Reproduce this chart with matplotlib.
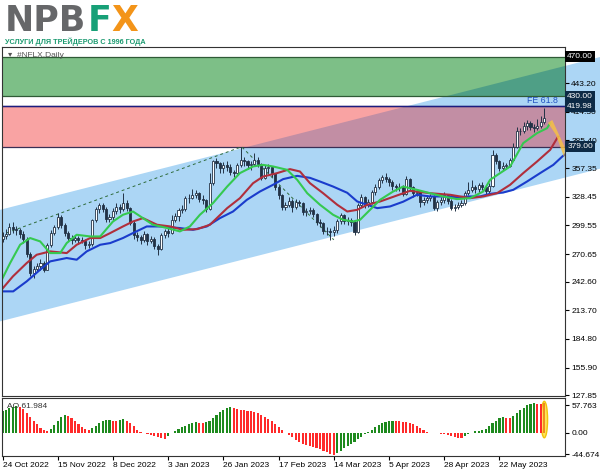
import numpy as np
import matplotlib.pyplot as plt
from matplotlib.patches import Polygon, Rectangle, Ellipse
from matplotlib.transforms import blended_transform_factory

plt.rcParams['font.family'] = ['Liberation Sans', 'DejaVu Sans']

# daily bars, 24 Oct 2022 .. 9 Jun 2023 (bar index = trading day)
first_open = 286
close = [289, 291, 298, 296, 295, 291, 286, 271, 251, 256,
         259, 262, 255, 280, 292, 298, 308, 300, 292, 287,
         285, 287, 285, 284, 280, 281, 305, 316, 320, 316,
         306, 308, 314, 318, 316, 322, 317, 302, 290, 288,
         285, 291, 284, 286, 279, 276, 290, 294, 292, 305,
         309, 315, 316, 327, 327, 330, 332, 326, 325, 316,
         342, 365, 363, 358, 361, 359, 354, 353, 361, 366,
         365, 361, 362, 366, 362, 347, 358, 359, 352, 338,
         330, 318, 320, 324, 318, 323, 322, 313, 314, 315,
         311, 303, 302, 294, 294, 293, 295, 304, 310, 304,
         305, 303, 293, 320, 328, 320, 323, 333, 338, 345,
         348, 346, 343, 339, 338, 338, 331, 346, 338, 332,
         333, 323, 325, 327, 329, 317, 323, 325, 330, 324,
         317, 318, 320, 322, 332, 335, 338, 336, 340, 338,
         334, 339, 371, 365, 358, 360, 360, 366, 379, 395,
         395, 400, 403, 399, 398, 400, 404, 408]
high = [293, 296, 302, 303, 299, 297, 294, 288, 273, 259,
        262, 266, 264, 282, 295, 300, 312, 310, 302, 294,
        290, 290, 289, 288, 286, 284, 306, 318, 322, 322,
        318, 311, 317, 322, 321, 332, 325, 318, 304, 293,
        290, 294, 292, 289, 288, 281, 292, 296, 298, 310,
        312, 317, 320, 329, 331, 336, 335, 333, 330, 326,
        352, 366, 368, 364, 364, 365, 362, 356, 363, 379,
        369, 366, 365, 373, 369, 363, 361, 362, 360, 353,
        340, 331, 323, 328, 326, 326, 325, 323, 317, 318,
        317, 312, 306, 303, 298, 297, 299, 306, 312, 311,
        308, 307, 304, 322, 331, 329, 326, 335, 341, 347,
        350, 352, 348, 345, 341, 342, 340, 349, 347, 339,
        336, 335, 328, 330, 331, 330, 325, 328, 333, 331,
        326, 321, 323, 325, 334, 343, 345, 340, 342, 343,
        340, 342, 376, 373, 366, 364, 363, 368, 383, 399,
        398, 404, 406, 405, 402, 407, 410, 418]
low = [283, 286, 290, 292, 290, 287, 282, 268, 248, 246,
       252, 255, 252, 254, 278, 290, 296, 297, 289, 284,
       281, 283, 281, 282, 276, 277, 279, 303, 312, 313,
       303, 303, 305, 311, 312, 314, 314, 300, 286, 284,
       281, 283, 280, 282, 276, 270, 275, 287, 288, 291,
       303, 304, 312, 314, 322, 326, 327, 323, 321, 313,
       315, 340, 358, 353, 352, 355, 350, 348, 351, 359,
       360, 357, 356, 360, 359, 345, 346, 352, 348, 335,
       326, 315, 315, 318, 313, 316, 319, 310, 309, 311,
       308, 300, 298, 291, 290, 285, 289, 292, 301, 301,
       300, 299, 290, 292, 318, 317, 318, 321, 330, 336,
       342, 343, 339, 335, 334, 334, 329, 330, 335, 328,
       329, 318, 320, 322, 324, 315, 314, 320, 322, 321,
       315, 314, 316, 318, 320, 330, 333, 332, 333, 335,
       331, 332, 338, 362, 355, 356, 357, 359, 365, 378,
       391, 393, 396, 396, 394, 396, 398, 402]

# Awesome Oscillator
ao = [46, 49, 52, 55, 57, 54, 50, 42, 33, 25,
      18, 11, 6, 4, 8, 16, 26, 34, 38, 36,
      31, 24, 18, 13, 9, 7, 10, 15, 20, 24,
      27, 28, 26, 25, 27, 29, 25, 20, 14, 7,
      2, -1, -3, -4, -6, -8, -10, -12, -6, -1,
      4, 8, 12, 15, 18, 20, 22, 21, 20, 22,
      26, 31, 37, 43, 49, 53, 55, 52, 50, 49,
      47, 46, 45, 44, 42, 38, 34, 29, 24, 18,
      12, 6, 1, -4, -9, -14, -18, -22, -25, -28,
      -30, -32, -34, -37, -40, -43, -45, -42, -37, -32,
      -27, -22, -18, -13, -8, -3, 2, 7, 12, 16,
      20, 23, 25, 26, 25, 24, 23, 22, 21, 18,
      14, 10, 6, 3, 1, 0.5, -1, -2, -3, -5,
      -6, -8, -10, -11, -7, -3, 1, 4, 5, 6,
      9, 14, 20, 26, 32, 34, 32, 31, 36, 42,
      48, 53, 58, 61, 62, 61.5, 61, 61.984]

# Alligator lines (bar, price)
jaw_x = [-0.7, 3.1, 7.0, 10.9, 13.8, 18.6, 21.5, 24.4, 28.3, 31.2, 34.9, 37.8, 41.8,
         45.7, 51.4, 55.2, 59.2, 63.0, 66.8, 70.8, 74.6, 78.4, 81.3, 85.4, 89.1,
         92.0, 95.8, 99.9, 102.8, 105.7, 108.6, 112.3, 116.1, 120.1, 123.9, 127.7,
         131.7, 135.5, 138.4, 141.3, 145.1, 148.0, 152.0, 155.8, 159.6, 162.2, 164.0]
jaw_y = [232.9, 232.9, 243.0, 254.8, 263.2, 266.6, 264.9, 273.3, 280.0, 281.7, 286.8,
         291.8, 298.5, 298.5, 296.9, 295.1, 298.5, 306.9, 313.6, 325.4, 333.8, 340.6,
         346.3, 349.6, 347.6, 343.9, 338.8, 332.5, 323.7, 320.4, 317.0, 318.7, 323.5,
         330.5, 328.8, 328.8, 328.1, 328.8, 328.8, 331.5, 332.8, 335.5, 343.9, 352.4,
         360.7, 369.1, 374.0]
teeth_x = [-0.7, 3.0, 7.0, 9.9, 13.8, 18.6, 21.5, 25.4, 28.3, 31.2, 34.9, 37.8, 40.7,
           44.8, 48.6, 52.3, 56.4, 60.1, 65.1, 68.8, 72.6, 75.5, 79.6, 83.3, 86.2,
           89.1, 92.9, 97.0, 99.9, 102.8, 105.7, 109.4, 113.2, 118.1, 123.9, 129.7,
           135.5, 139.3, 143.3, 147.1, 150.9, 154.9, 158.7, 161.0]
teeth_y = [232.9, 248.0, 261.5, 269.9, 273.3, 271.6, 280.0, 286.8, 286.8, 291.8, 298.5,
           303.5, 306.9, 300.2, 298.5, 295.1, 295.8, 300.2, 317.0, 327.1, 342.2, 348.9,
           352.4, 356.4, 354.0, 342.2, 332.1, 320.4, 313.6, 315.3, 320.4, 323.7, 328.4,
           334.5, 332.1, 330.5, 327.1, 328.8, 332.1, 340.6, 352.4, 364.1, 375.9, 389.3]
lips_x = [-0.7, 2.2, 5.1, 8.0, 10.9, 13.8, 16.7, 18.6, 21.5, 25.4, 28.3, 32.0, 34.9,
          37.8, 40.7, 43.6, 47.7, 51.4, 54.3, 57.2, 61.0, 65.1, 68.8, 72.6, 75.5, 78.4,
          82.5, 85.4, 88.3, 92.0, 95.8, 98.7, 101.6, 103.6, 106.5, 109.4, 113.2, 116.1,
          120.1, 123.9, 127.7, 131.7, 135.5, 139.3, 141.3, 144.2, 147.1, 150.9, 154.9,
          157.8, 158.7]
lips_y = [241.3, 261.5, 280.0, 286.8, 283.4, 271.6, 271.6, 281.7, 290.1, 288.4, 288.4,
          303.5, 310.3, 313.6, 306.9, 300.2, 296.9, 293.5, 298.5, 310.3, 322.1, 338.8,
          352.4, 359.1, 360.7, 359.1, 355.7, 345.6, 332.1, 320.4, 310.3, 305.2, 303.5,
          305.2, 315.3, 325.4, 333.8, 338.8, 335.5, 332.1, 328.8, 326.1, 327.1, 333.8,
          345.6, 352.4, 359.1, 382.7, 392.8, 397.8, 402.9]

# drawing objects
channel_x = [-0.72, 173.2]
channel_top = [315.3, 469.7]
channel_bot = [202.6, 356.9]
fe_x = [1.2, 69.3, 96.0]
fe_y = [292.0, 379.0, 285.0]
fe_level = 419.98
green_zone = (430.0, 470.0)
red_zone = (379.0, 419.98)
wedge_x = [158.1, 159.3, 163.0, 162.8, 160.4]
wedge_y = [403.1, 406.1, 377.9, 367.8, 391.0]

date_labels = ['24 Oct 2022', '15 Nov 2022', '8 Dec 2022', '3 Jan 2023', '26 Jan 2023',
               '17 Feb 2023', '14 Mar 2023', '5 Apr 2023', '28 Apr 2023', '22 May 2023']
date_bars = [0, 16, 32, 48, 64, 80, 96, 112, 128, 144]
price_ticks = [443.20, 414.30, 385.40, 357.35, 328.45, 299.55, 270.65, 242.60,
               213.70, 184.80, 155.90, 127.85]
boxed = [(470.00, 'black'), (430.00, '#0d2a45'), (419.98, '#0d2a45'), (379.00, '#0d2a45')]
ao_ticks = [57.763, 0.0, -44.674]

W, H = 600, 476
fig = plt.figure(figsize=(6, 4.76), dpi=100)
ax = fig.add_axes([2 / W, 1 - 396 / H, 563 / W, 349 / H])
ax2 = fig.add_axes([2 / W, 1 - 456 / H, 563 / W, 58 / H])
xmin, xmax = -0.15, 163.0

dark = '#223246'
n = len(close)
x = np.arange(n)
c = np.array(close, dtype=float)
o = np.array([first_open] + close[:-1], dtype=float)

# channel + zones
chan_pts = list(zip(channel_x + channel_x[::-1], channel_top + channel_bot[::-1]))
ax.add_patch(Polygon(chan_pts, closed=True, fc='#acd6f5', ec='none', zorder=0.5, clip_on=False))
for (lo, hi), fc, ov, ec in [(green_zone, '#7dbf87', '#4f9f86', '#2f5a36'),
                             (red_zone, '#f9a3a3', '#c28ea4', '#3a2f55')]:
    rect = Rectangle((xmin, lo), xmax - xmin, hi - lo, fc=fc, ec='none', zorder=1)
    ax.add_patch(rect)
    over = Polygon(chan_pts, closed=True, fc=ov, ec='none', zorder=1.1)
    ax.add_patch(over)
    over.set_clip_path(rect)
    ax.axhline(lo, color=ec, lw=0.9, zorder=1.5)
    ax.axhline(hi, color=ec, lw=0.9, zorder=1.5)
ax.axhline(fe_level, color='#1c1c80', lw=1.0, zorder=1.6)
ax.text(160.8, fe_level + 1, 'FE 61.8', color='#2050c0', fontsize=6.3, ha='right', va='bottom', zorder=6)

# dashed FE construction lines
ax.plot(fe_x, fe_y, ls=(0, (3, 3)), color='#2e6b3a', lw=0.7, zorder=2)

# candles
up = c >= o
ax.vlines(x, low, high, color=dark, lw=0.7, zorder=3)
ax.bar(x[up], np.maximum((c - o)[up], 0.3), bottom=o[up], width=0.6, fc='white', ec=dark, lw=0.6, zorder=3.1)
ax.bar(x[~up], (o - c)[~up], bottom=c[~up], width=0.6, fc=dark, ec=dark, lw=0.6, zorder=3.1)

# alligator
ax.plot(jaw_x, jaw_y, color='#1a3ccc', lw=1.5, zorder=4)
ax.plot(teeth_x, teeth_y, color='#b02f3c', lw=1.5, zorder=4.1)
ax.plot(lips_x, lips_y, color='#35c950', lw=1.5, zorder=4.2)
ax.add_patch(Polygon(list(zip(wedge_x, wedge_y)), closed=True, fc='#f5c045', ec='none',
                     alpha=0.85, zorder=5))

ax.set_xlim(xmin, xmax)
ax.set_ylim(127.2, 479.8)
ax.yaxis.tick_right()
ax.set_yticks(price_ticks)
ax.set_yticklabels(['%.2f' % v for v in price_ticks])
ax.tick_params(axis='y', labelsize=6, length=3, pad=1.5, colors='black')
ax.tick_params(axis='x', bottom=False, labelbottom=False)
tr = blended_transform_factory(ax.transAxes, ax.transData)
for val, col in boxed:
    ax.text(1.004, val, '%.2f' % val, transform=tr, color='white', fontsize=6,
            ha='left', va='center', zorder=10, clip_on=False,
            bbox=dict(boxstyle='square,pad=0.25', fc=col, ec='none'))
ax.text(0.01, 0.985, '\u25be  #NFLX,Daily', transform=ax.transAxes, fontsize=6,
        color='#555555', ha='left', va='top', zorder=6)
for s in ax.spines.values():
    s.set_color('#333333')
    s.set_linewidth(0.8)
    s.set_zorder(7)

# AO panel
ao_arr = np.array(ao, dtype=float)
cols = ['#1e8a1e' if i == 0 or ao_arr[i] > ao_arr[i - 1] else '#ff2a2a' for i in range(n)]
cols[-1] = '#f08a20'
ax2.add_patch(Ellipse((x[-1], 28), 1.9, 76, fc='#ffe45a', ec='#f2c40c', lw=1.0, zorder=1.5))
ax2.bar(x, ao_arr, width=0.62, color=cols, zorder=2)
ax2.set_xlim(xmin, xmax)
ax2.set_ylim(-48, 73)
ax2.yaxis.tick_right()
ax2.set_yticks(ao_ticks)
ax2.set_yticklabels(['57.763', '0.00', '-44.674'])
ax2.tick_params(axis='y', labelsize=6, length=3, pad=1.5)
ax2.set_xticks(date_bars)
ax2.set_xticklabels(date_labels, ha='left')
ax2.tick_params(axis='x', labelsize=6, length=3, pad=1.5)
ax2.text(0.008, 0.92, 'AO 61.984', transform=ax2.transAxes, fontsize=6, color='#333333',
         ha='left', va='top', zorder=6)
for s in ax2.spines.values():
    s.set_color('#333333')
    s.set_linewidth(0.8)

# logo
fig.text(5 / W, 1 - 31 / H, 'NPB', fontsize=25, fontweight='bold', color='#666769',
         family='DejaVu Sans', va='baseline', ha='left')
fig.text(88 / W, 1 - 31 / H, 'F', fontsize=25, fontweight='bold', color='#17a077',
         family='DejaVu Sans', va='baseline', ha='left')
fig.text(111 / W, 1 - 31 / H, 'X', fontsize=25, fontweight='bold', color='#f39419',
         family='DejaVu Sans', va='baseline', ha='left')
fig.text(5 / W, 1 - 44.5 / H, 'УСЛУГИ ДЛЯ ТРЕЙДЕРОВ С 1996 ГОДА', fontsize=5.2,
         fontweight='bold', color='#1b9a70', va='baseline', ha='left')

fig.savefig('out.png', dpi=100)
